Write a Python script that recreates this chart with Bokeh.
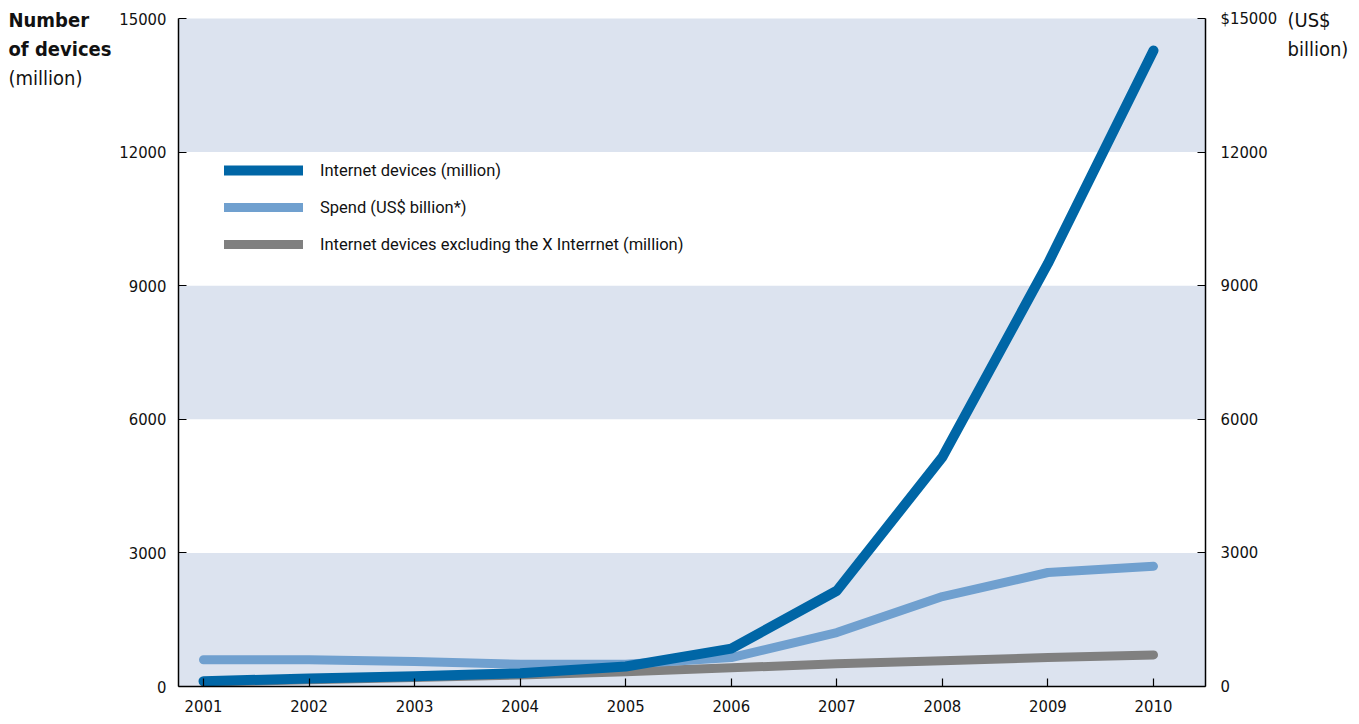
from bokeh.plotting import figure
from bokeh.models import (Range1d, LinearAxis, FixedTicker, Label, Legend, LegendItem)
from bokeh.embed import file_html
from bokeh.resources import INLINE

years = [2001, 2002, 2003, 2004, 2005, 2006, 2007, 2008, 2009, 2010]
devices = [120, 180, 230, 300, 450, 850, 2150, 5150, 9500, 14280]
spend = [600, 600, 560, 500, 500, 650, 1210, 2020, 2560, 2700]
devices_ex_x = [100, 150, 200, 260, 330, 420, 510, 580, 650, 710]

y_ticks = [0, 3000, 6000, 9000, 12000, 15000]
band_bottoms = [0, 6000, 12000]
band_tops = [3000, 9000, 15000]

FONT = "DejaVu Sans Condensed"
FONT2 = "Roboto"
DARK = "#0066a6"
LIGHT = "#70a0cf"
GREY = "#808080"
BAND = "#dce3ef"

W, H = 1359, 724
# plotting box in canvas pixels
box_l, box_r, box_t, box_b = 178, 1205, 18, 686
y_min, y_max = 0, 15000
# horizontal scale: first and last year in pixels
yr_px0, yr_px1 = 203, 1153

ppx = (yr_px1 - yr_px0) / (years[-1] - years[0])
ppy = (box_b - box_t) / (y_max - y_min)

def dx(px):
    return years[0] + (px - yr_px0) / ppx
def dy(py):
    return y_min + (box_b - py) / ppy

# the frame fills the canvas; axes are pinned to the box edges
p = figure(width=W, height=H, output_backend="svg", toolbar_location=None,
           x_range=Range1d(dx(0), dx(W)), y_range=Range1d(dy(H), dy(0)),
           min_border=0, y_axis_location=None, x_axis_location=None)
p.outline_line_color = None
p.xgrid.visible = False
p.ygrid.visible = False

xl, xr = dx(box_l), dx(box_r)

# shaded horizontal bands
p.quad(left=xl, right=xr, bottom=band_bottoms, top=band_tops,
       fill_color=BAND, line_color=None)

def style_axis(ax):
    ax.axis_line_color = "black"
    ax.axis_line_width = 1.5
    ax.major_tick_line_color = "black"
    ax.major_tick_line_width = 1.2
    ax.major_tick_in = 8
    ax.major_tick_out = 0
    ax.minor_tick_line_color = None
    ax.major_label_text_font = FONT
    ax.major_label_text_font_size = "16.5px"
    ax.major_label_text_color = "#111111"

ax_b = LinearAxis(ticker=FixedTicker(ticks=years), fixed_location=y_min, bounds=(xl, xr))
style_axis(ax_b)
ax_b.major_label_standoff = 13
p.add_layout(ax_b, "below")

ax_l = LinearAxis(ticker=FixedTicker(ticks=y_ticks), fixed_location=xl, bounds=(y_min, y_max))
style_axis(ax_l)
ax_l.major_label_standoff = 12
p.add_layout(ax_l, "left")

ax_r = LinearAxis(ticker=FixedTicker(ticks=y_ticks), fixed_location=xr, bounds=(y_min, y_max))
style_axis(ax_r)
ax_r.major_label_standoff = 15
ax_r.major_label_overrides = {15000: "$15000"}
p.add_layout(ax_r, "right")

r_grey = p.line(years, devices_ex_x, line_color=GREY, line_width=9, line_cap="round", line_join="round")
r_light = p.line(years, spend, line_color=LIGHT, line_width=9, line_cap="round", line_join="round")
r_dark = p.line(years, devices, line_color=DARK, line_width=10, line_cap="round", line_join="round")

legend = Legend(items=[
    LegendItem(label="Internet devices (million)", renderers=[r_dark]),
    LegendItem(label="Spend (US$ billion*)", renderers=[r_light]),
    LegendItem(label="Internet devices excluding the X Interrnet (million)", renderers=[r_grey]),
], location=(224, 468))
legend.padding = 0
legend.margin = 0
legend.border_line_alpha = 0
legend.background_fill_alpha = 0
legend.glyph_width = 79
legend.glyph_height = 24
legend.label_height = 24
legend.spacing = 13
legend.label_standoff = 17
legend.label_text_font = FONT2
legend.label_text_font_size = "16.5px"
legend.label_text_color = "#111111"
p.add_layout(legend, "center")

# axis titles
def add_text(txt, px, py, bold=False):
    p.add_layout(Label(x=dx(px), y=dy(py), text=txt, text_font=FONT,
                       text_font_size="20px", text_baseline="top", text_align="left",
                       text_font_style="bold" if bold else "normal",
                       text_color="#111111"))

add_text("Number", 8, 7, bold=True)
add_text("of devices", 8, 36, bold=True)
add_text("(million)", 8, 65)
add_text("(US$", 1287, 7)
add_text("billion)", 1287, 36)

open("out.html", "w").write(file_html(p, INLINE))
